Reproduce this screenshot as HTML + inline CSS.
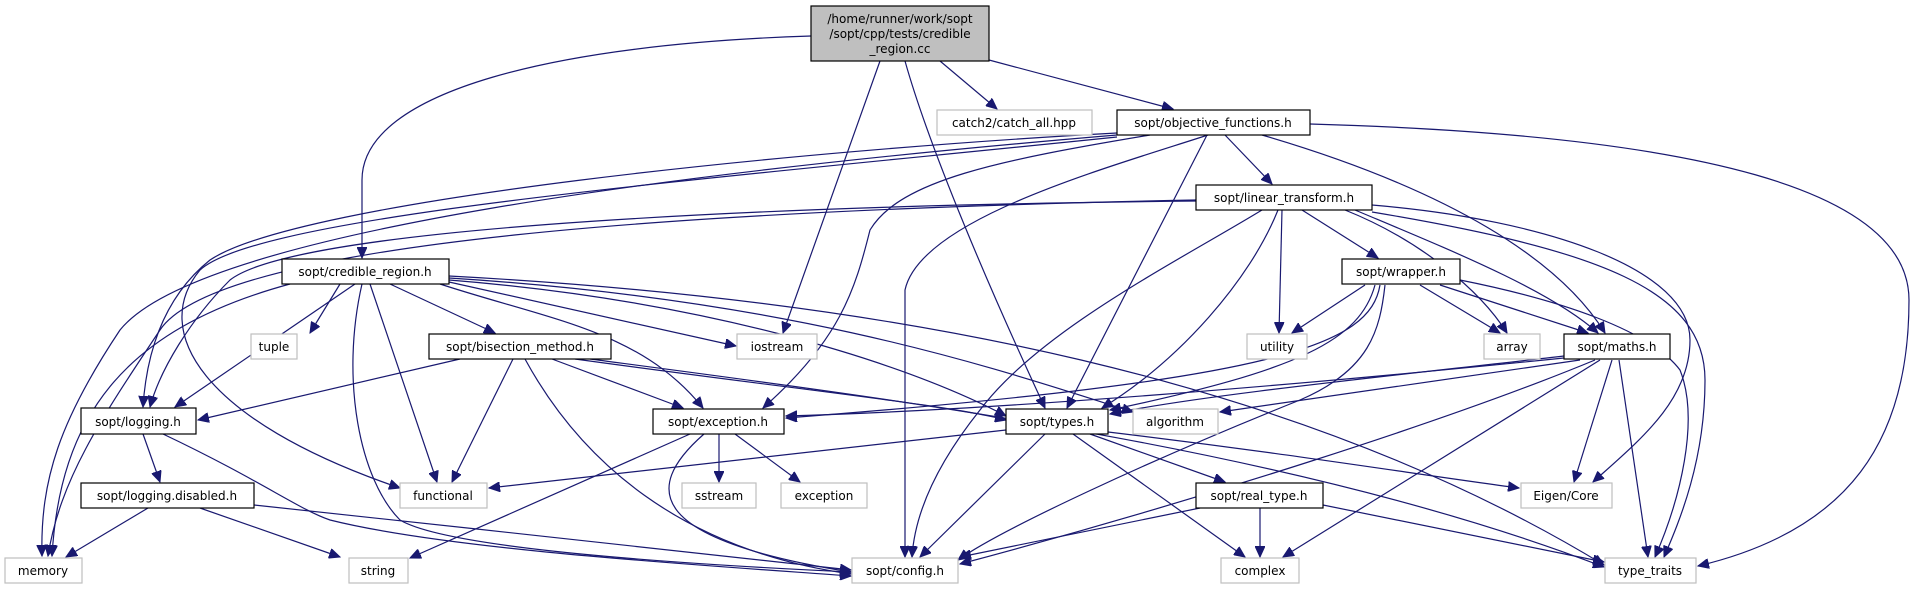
<!DOCTYPE html>
<html><head><meta charset="utf-8"><style>
html,body{margin:0;padding:0;background:#fff;}
svg{display:block;}
text{font-family:"DejaVu Sans","Liberation Sans",sans-serif;font-size:12px;fill:#000;text-anchor:middle;}
.e{fill:none;stroke:#191970;stroke-width:1.2;marker-end:url(#a);}
.n{fill:#fff;stroke:#000;stroke-width:1.2;}
.g{fill:#fff;stroke:#bfbfbf;stroke-width:1.2;}
</style></head><body>
<svg width="1916" height="589" viewBox="0 0 1916 589" xmlns="http://www.w3.org/2000/svg">
<defs><marker id="a" markerUnits="userSpaceOnUse" markerWidth="12" markerHeight="10" refX="11" refY="5" orient="auto"><path d="M0,0 L11,5 L0,10 z" fill="#191970" stroke="#191970"/></marker></defs>

<!-- root edges -->
<path class="e" d="M811,36 C560,44 362,90 362,180 L362,258"/>
<path class="e" d="M880,61 L783,333"/>
<path class="e" d="M905,61 C930,150 990,290 1045,408"/>
<path class="e" d="M940,61 L997,109"/>
<path class="e" d="M989,60 L1173,109"/>

<!-- objective edges -->
<path class="e" d="M1117,135 C700,170 200,230 120,330 C60,420 40,480 42,556"/>
<path class="e" d="M1117,133 C800,150 300,200 210,260 C160,300 146,360 143,407"/>
<path class="e" d="M1117,137 C700,180 260,215 200,270 C150,330 200,420 400,488"/>
<path class="e" d="M1150,135 C1000,160 900,180 870,230 C855,290 840,340 763,408"/>
<path class="e" d="M1208,135 C1100,170 920,220 905,290 L905,557"/>
<path class="e" d="M1207,135 L1067,408"/>
<path class="e" d="M1225,135 L1272,184"/>
<path class="e" d="M1262,135 C1450,190 1560,260 1605,333"/>
<path class="e" d="M1310,124 C1700,135 1909,190 1909,300 C1909,440 1850,530 1698,566"/>

<!-- linear_transform edges -->
<path class="e" d="M1196,200 C700,210 220,240 160,330 C100,420 60,480 48,556"/>
<path class="e" d="M1196,201 C800,205 300,225 230,280 C190,320 160,370 150,407"/>
<path class="e" d="M1262,210 C1180,260 1040,330 980,410 C940,460 915,510 912,557"/>
<path class="e" d="M1278,210 C1250,280 1180,360 1102,408"/>
<path class="e" d="M1282,210 L1279,333"/>
<path class="e" d="M1302,210 L1378,258"/>
<path class="e" d="M1345,210 C1420,240 1480,290 1507,333"/>
<path class="e" d="M1355,210 C1450,250 1550,290 1598,333"/>
<path class="e" d="M1372,205 C1550,220 1690,270 1690,340 C1690,400 1640,440 1593,482"/>
<path class="e" d="M1372,212 C1600,250 1705,290 1705,380 C1705,460 1680,520 1664,557"/>

<!-- wrapper edges -->
<path class="e" d="M1365,285 L1292,333"/>
<path class="e" d="M1420,285 L1500,333"/>
<path class="e" d="M1440,285 L1588,333"/>
<path class="e" d="M1375,285 C1360,340 1300,370 1110,410"/>
<path class="e" d="M1380,285 C1370,345 1280,380 786,418"/>
<path class="e" d="M1385,285 C1380,330 1370,370 1300,400 C1150,460 1000,530 958,560"/>
<path class="e" d="M1460,280 C1560,300 1650,330 1680,370 C1700,420 1680,500 1655,557"/>

<!-- maths edges -->
<path class="e" d="M1564,356 C1400,375 1200,395 1110,414"/>
<path class="e" d="M1564,358 C1300,385 1000,410 786,416"/>
<path class="e" d="M1580,360 L1220,412"/>
<path class="e" d="M1595,360 C1450,420 1200,500 960,564"/>
<path class="e" d="M1600,360 L1283,557"/>
<path class="e" d="M1612,360 L1574,482"/>
<path class="e" d="M1619,360 L1648,557"/>

<!-- types edges -->
<path class="e" d="M1006,430 L489,488"/>
<path class="e" d="M1045,434 L920,557"/>
<path class="e" d="M1073,434 L1245,557"/>
<path class="e" d="M1090,434 L1225,482"/>
<path class="e" d="M1108,432 C1300,455 1420,475 1519,488"/>

<!-- real_type edges -->
<path class="e" d="M1200,508 L960,557"/>
<path class="e" d="M1260,508 L1260,557"/>
<path class="e" d="M1323,505 L1604,562"/>

<!-- credible_region edges -->
<path class="e" d="M340,284 L310,333"/>
<path class="e" d="M290,284 C120,330 60,420 52,556"/>
<path class="e" d="M355,284 L175,407"/>
<path class="e" d="M370,284 L437,482"/>
<path class="e" d="M362,284 C340,380 360,480 400,520 C450,550 700,565 851,572"/>
<path class="e" d="M390,284 L495,333"/>
<path class="e" d="M440,284 C550,320 640,330 703,408"/>
<path class="e" d="M449,280 C700,300 900,360 1006,416"/>
<path class="e" d="M449,282 L736,346"/>
<path class="e" d="M449,278 C800,300 1000,370 1133,412"/>
<path class="e" d="M449,276 C900,300 1300,380 1604,565"/>

<!-- bisection edges -->
<path class="e" d="M460,359 L198,420"/>
<path class="e" d="M513,359 L452,482"/>
<path class="e" d="M525,359 C580,460 680,550 851,574"/>
<path class="e" d="M552,359 L683,408"/>
<path class="e" d="M575,359 C800,390 950,405 1006,420"/>
<path class="e" d="M590,359 C900,400 1300,450 1604,567"/>

<!-- exception.h edges -->
<path class="e" d="M690,434 L410,558"/>
<path class="e" d="M704,434 C640,490 650,540 851,572"/>
<path class="e" d="M719,434 L719,482"/>
<path class="e" d="M735,434 L800,482"/>

<!-- logging edges -->
<path class="e" d="M143,434 L160,482"/>
<path class="e" d="M163,434 C260,480 300,510 330,520 C450,550 700,565 851,576"/>
<path class="e" d="M148,508 L66,557"/>
<path class="e" d="M200,508 L340,557"/>
<path class="e" d="M254,505 C450,525 700,555 851,570"/>

<!-- nodes -->
<rect x="811" y="6" width="178" height="55" fill="#bfbfbf" stroke="#000" stroke-width="1.2"/>
<text x="900" y="23">/home/runner/work/sopt</text>
<text x="900" y="38">/sopt/cpp/tests/credible</text>
<text x="900" y="53">_region.cc</text>

<rect class="g" x="937" y="110" width="155" height="25"/><text x="1014" y="127">catch2/catch_all.hpp</text>
<rect class="n" x="1117" y="110" width="193" height="25"/><text x="1213" y="127">sopt/objective_functions.h</text>
<rect class="n" x="1196" y="185" width="176" height="25"/><text x="1284" y="202">sopt/linear_transform.h</text>
<rect class="n" x="282" y="259" width="167" height="25"/><text x="365" y="276">sopt/credible_region.h</text>
<rect class="n" x="1342" y="259" width="118" height="25"/><text x="1401" y="276">sopt/wrapper.h</text>
<rect class="g" x="251" y="334" width="46" height="25"/><text x="274" y="351">tuple</text>
<rect class="n" x="429" y="334" width="182" height="25"/><text x="520" y="351">sopt/bisection_method.h</text>
<rect class="g" x="737" y="334" width="80" height="25"/><text x="777" y="351">iostream</text>
<rect class="g" x="1247" y="334" width="60" height="25"/><text x="1277" y="351">utility</text>
<rect class="g" x="1484" y="334" width="56" height="25"/><text x="1512" y="351">array</text>
<rect class="n" x="1564" y="334" width="106" height="25"/><text x="1617" y="351">sopt/maths.h</text>
<rect class="n" x="81" y="408" width="115" height="26"/><text x="138" y="426">sopt/logging.h</text>
<rect class="n" x="653" y="409" width="131" height="25"/><text x="718" y="426">sopt/exception.h</text>
<rect class="n" x="1006" y="409" width="102" height="25"/><text x="1057" y="426">sopt/types.h</text>
<rect class="g" x="1133" y="409" width="85" height="25"/><text x="1175" y="426">algorithm</text>
<rect class="n" x="81" y="483" width="173" height="25"/><text x="167" y="500">sopt/logging.disabled.h</text>
<rect class="g" x="400" y="483" width="87" height="25"/><text x="443" y="500">functional</text>
<rect class="g" x="682" y="483" width="74" height="25"/><text x="719" y="500">sstream</text>
<rect class="g" x="781" y="483" width="86" height="25"/><text x="824" y="500">exception</text>
<rect class="n" x="1196" y="483" width="127" height="25"/><text x="1259" y="500">sopt/real_type.h</text>
<rect class="g" x="1521" y="483" width="91" height="25"/><text x="1566" y="500">Eigen/Core</text>
<rect class="g" x="5" y="558" width="77" height="25"/><text x="43" y="575">memory</text>
<rect class="g" x="349" y="558" width="59" height="25"/><text x="378" y="575">string</text>
<rect class="g" x="852" y="558" width="106" height="25"/><text x="905" y="575">sopt/config.h</text>
<rect class="g" x="1221" y="558" width="78" height="25"/><text x="1260" y="575">complex</text>
<rect class="g" x="1605" y="558" width="91" height="25"/><text x="1650" y="575">type_traits</text>
</svg>
</body></html>
